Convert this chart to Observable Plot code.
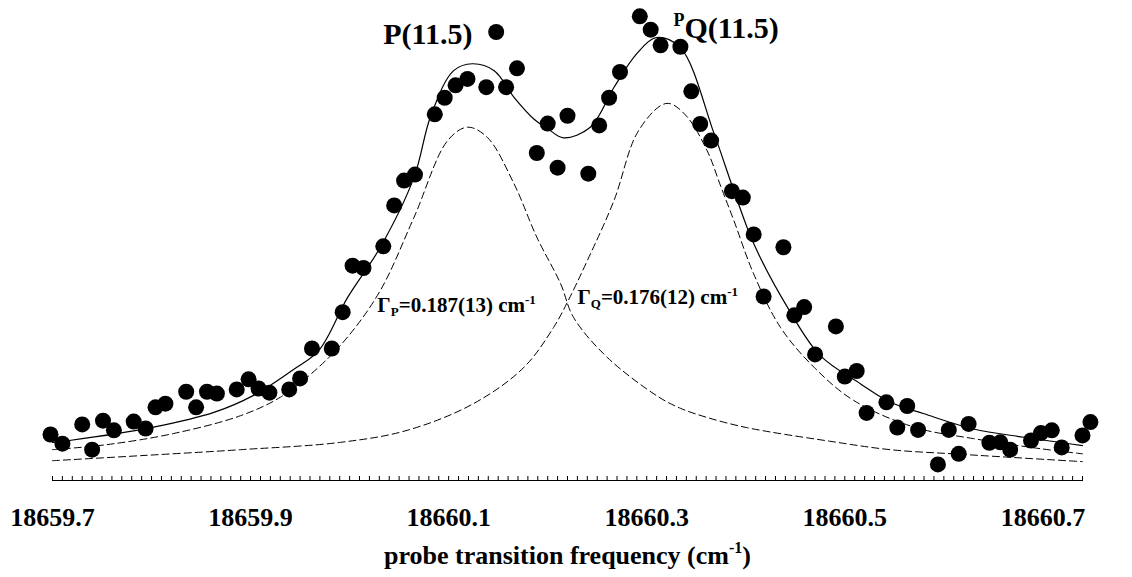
<!DOCTYPE html>
<html><head><meta charset="utf-8">
<script src="https://cdn.jsdelivr.net/npm/d3@7"></script>
<script src="https://cdn.jsdelivr.net/npm/@observablehq/plot@0.6"></script>
<style>body{margin:0;background:#fff}</style>
</head><body><div id="chart"></div>
<script>
// Measured points (probe frequency, signal in arbitrary units)
const pointFreq = [18659.698, 18659.710, 18659.730, 18659.740, 18659.751, 18659.762, 18659.782, 18659.794, 18659.804, 18659.814,
  18659.835, 18659.845, 18659.856, 18659.866, 18659.886, 18659.898, 18659.908, 18659.919, 18659.939, 18659.950,
  18659.962, 18659.982, 18659.993, 18660.003, 18660.014, 18660.034, 18660.045, 18660.055, 18660.066, 18660.086,
  18660.096, 18660.107, 18660.119, 18660.138, 18660.148, 18660.158, 18660.169, 18660.189, 18660.200, 18660.210,
  18660.220, 18660.241, 18660.252, 18660.262, 18660.273, 18660.293, 18660.304, 18660.314, 18660.334, 18660.345,
  18660.354, 18660.365, 18660.386, 18660.397, 18660.408, 18660.418, 18660.438, 18660.449, 18660.459, 18660.470,
  18660.491, 18660.500, 18660.512, 18660.522, 18660.542, 18660.553, 18660.563, 18660.574, 18660.594, 18660.605,
  18660.615, 18660.625, 18660.646, 18660.657, 18660.667, 18660.688, 18660.698, 18660.709, 18660.719, 18660.740, 18660.748];
const pointSignal = [10.0, 8.0, 12.2, 6.7, 13.0, 10.9, 12.8, 11.3, 15.9, 16.7,
  19.3, 15.9, 19.3, 18.9, 19.8, 22.0, 20.0, 19.1, 19.8, 22.2,
  28.7, 28.7, 36.6, 46.7, 46.2, 50.9, 59.8, 65.2, 66.5, 79.6,
  83.2, 85.9, 87.3, 85.5, 97.5, 85.5, 89.6, 71.2, 77.6, 68.0,
  79.3, 66.7, 77.2, 83.2, 88.8, 100.9, 98.0, 94.6, 94.3, 84.6,
  77.5, 73.9, 62.9, 61.5, 53.5, 40.0, 50.7, 35.9, 37.7, 27.4,
  33.5, 22.6, 23.8, 14.7, 17.0, 11.5, 16.2, 11.0, 3.5, 11.0,
  5.8, 12.3, 8.2, 8.3, 6.7, 8.7, 10.3, 10.9, 7.2, 9.8, 12.7];

// Total fit (solid line)
const fitFreq = [18659.700, 18659.717, 18659.802, 18659.863, 18659.903, 18659.943, 18659.969, 18659.998, 18660.031, 18660.065,
  18660.082, 18660.105, 18660.124, 18660.146, 18660.166, 18660.186, 18660.200, 18660.216, 18660.243, 18660.267,
  18660.290, 18660.310, 18660.334, 18660.368, 18660.388, 18660.408, 18660.442, 18660.475, 18660.516, 18660.546,
  18660.580, 18660.630, 18660.681, 18660.740];
const fitSignal = [8.3, 8.7, 11.6, 14.8, 18.5, 24.1, 28.3, 39.8, 50.7, 65.9,
  79.3, 89.1, 90.6, 89.1, 83.3, 78.6, 76.5, 74.5, 76.8, 85.5,
  92.8, 96.3, 94.1, 75.4, 63.0, 51.5, 37.7, 27.2, 21.0, 17.0,
  14.5, 11.2, 9.4, 7.6];

// P(11.5) component (dashed)
const pFreq = [18659.700, 18659.755, 18659.822, 18659.890, 18659.930, 18659.967, 18659.998, 18660.031, 18660.065, 18660.099,
  18660.119, 18660.139, 18660.166, 18660.189, 18660.213, 18660.226, 18660.260, 18660.311, 18660.334, 18660.361,
  18660.401, 18660.486, 18660.546, 18660.617, 18660.740];
const pSignal = [6.7, 7.8, 10.2, 14.1, 18.1, 24.3, 31.2, 41.3, 57.2, 73.9,
  76.8, 74.6, 64.5, 52.9, 42.8, 35.5, 26.8, 18.3, 15.7, 13.7,
  11.5, 8.5, 6.7, 5.7, 4.1];

// PQ(11.5) component (dashed)
const qFreq = [18659.700, 18659.789, 18659.890, 18659.991, 18660.058, 18660.125, 18660.176, 18660.206, 18660.220, 18660.240,
  18660.267, 18660.290, 18660.314, 18660.324, 18660.341, 18660.361, 18660.375, 18660.388, 18660.408, 18660.435,
  18660.469, 18660.509, 18660.570, 18660.630, 18660.698, 18660.740];
const qSignal = [4.3, 5.4, 6.7, 8.3, 10.9, 16.7, 24.6, 33.3, 38.8, 47.8,
  60.9, 75.4, 81.5, 81.9, 79.0, 71.7, 63.8, 56.5, 44.9, 33.3,
  24.6, 17.4, 11.6, 9.1, 6.9, 5.8];

const tickLabels = [18659.7, 18659.9, 18660.1, 18660.3, 18660.5, 18660.7];
const xTitle = "probe transition frequency (cm-1)";
const peakNames = ["P(11.5)", "PQ(11.5)"];
const peakNameFreq = [18660.034, 18660.327];
const peakNameSignal = [95.0, 96.3];
const widthNames = ["ΓP=0.187(13) cm-1", "ΓQ=0.176(12) cm-1"];
const widthNameFreq = [18660.028, 18660.230];
const widthNameSignal = [36.6, 38.4];

const toRows = (xs, ys) => xs.map((x, i) => ({x, y: ys[i]}));
const points = toRows(pointFreq, pointSignal);
const fit = toRows(fitFreq, fitSignal);
const pComp = toRows(pFreq, pSignal);
const qComp = toRows(qFreq, qSignal);
const peakRows = peakNames.map((t, i) => ({t, x: peakNameFreq[i], y: peakNameSignal[i]}));
const widthRows = widthNames.map((t, i) => ({t, x: widthNameFreq[i], y: widthNameSignal[i]}));
const minorTicks = d3.range(0, 105).map(i => +(18659.7 + i * 0.01).toFixed(2));

const serif = "Liberation Serif, Times New Roman, serif";

const chart = Plot.plot({
  width: 1132,
  height: 577,
  marginLeft: 52,
  marginRight: 50,
  marginTop: 20,
  marginBottom: 97,
  style: {fontFamily: serif, fontWeight: "bold", background: "#fff", color: "#000", overflow: "visible"},
  x: {domain: [18659.7, 18660.74]},
  y: {domain: [0, 100], axis: null},
  marks: [
    Plot.frame({anchor: "bottom", stroke: "#000", strokeWidth: 1}),
    Plot.axisX(minorTicks, {tickSize: -4, tickFormat: () => "", label: null, stroke: "#000"}),
    Plot.axisX(tickLabels, {tickSize: 0, tickPadding: 27, fontSize: 26, fontFamily: serif, fontWeight: "bold", fill: "#000", label: null, tickFormat: d => d.toFixed(1)}),
    Plot.line(pComp, {x: "x", y: "y", stroke: "#000", strokeWidth: 1, strokeDasharray: "7,4", curve: "catmull-rom"}),
    Plot.line(qComp, {x: "x", y: "y", stroke: "#000", strokeWidth: 1, strokeDasharray: "7,4", curve: "catmull-rom"}),
    Plot.line(fit, {x: "x", y: "y", stroke: "#000", strokeWidth: 1.2, curve: "catmull-rom"}),
    Plot.dot(points, {x: "x", y: "y", r: 8, fill: "#000", stroke: null}),
    Plot.text(peakRows, {x: "x", y: "y", text: "t", textAnchor: "start", lineAnchor: "bottom", fontSize: 30, fontFamily: serif, fontWeight: "bold", fill: "#000"}),
    Plot.text(widthRows, {x: "x", y: "y", text: "t", textAnchor: "start", lineAnchor: "bottom", fontSize: 21, fontFamily: serif, fontWeight: "bold", fill: "#000"}),
    Plot.text([xTitle], {text: d => d, frameAnchor: "bottom", dy: 83, lineAnchor: "bottom", fontSize: 26, fontFamily: serif, fontWeight: "bold", fill: "#000"})
  ]
});

function richText(svg, plain, parts) {
  d3.select(svg).selectAll("text").filter(function() { return this.textContent === plain; }).each(function() {
    const t = d3.select(this);
    t.text(null);
    parts.forEach(p => {
      const s = t.append("tspan").text(p.t);
      if (p.size) s.attr("font-size", p.size);
      if (p.dy) s.attr("dy", p.dy);
    });
  });
}
richText(chart, "PQ(11.5)", [{t: "P", size: 18, dy: -12}, {t: "Q(11.5)", dy: 12}]);
richText(chart, "ΓP=0.187(13) cm-1", [{t: "Γ"}, {t: "P", size: 13, dy: 4}, {t: "=0.187(13) cm", dy: -4}, {t: "-1", size: 13, dy: -8}]);
richText(chart, "ΓQ=0.176(12) cm-1", [{t: "Γ"}, {t: "Q", size: 13, dy: 4}, {t: "=0.176(12) cm", dy: -4}, {t: "-1", size: 13, dy: -8}]);
richText(chart, xTitle, [{t: "probe transition frequency (cm"}, {t: "-1", size: 16, dy: -11}, {t: ")", dy: 11}]);

document.getElementById("chart").append(chart);
</script>
</body></html>
